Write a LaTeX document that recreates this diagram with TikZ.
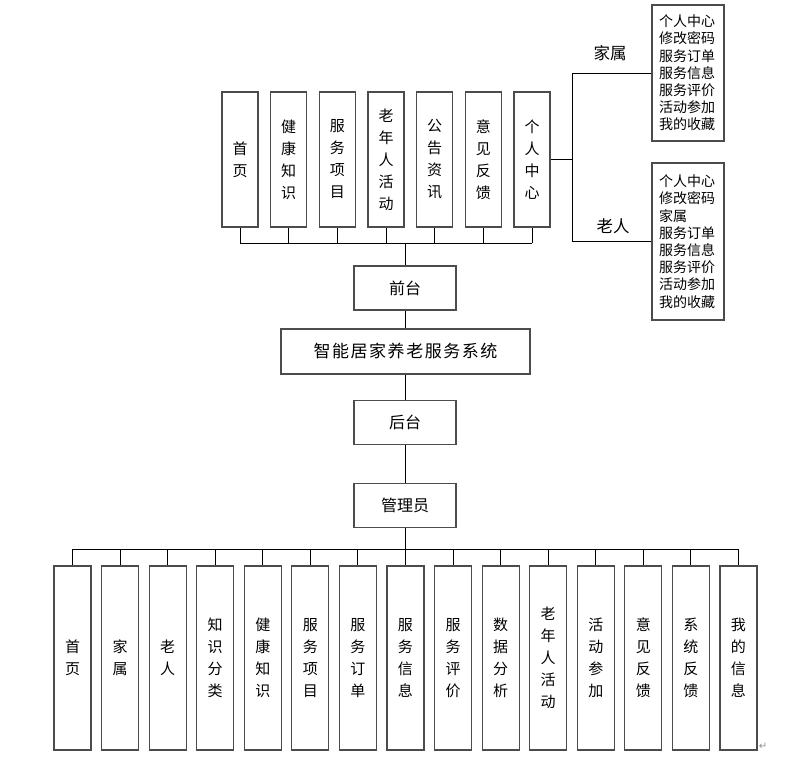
\documentclass[tikz,border=0pt]{standalone}
\usepackage{fontspec}
\newfontfamily\cjk{Noto Sans CJK SC}
\newfontfamily\dejavu{DejaVu Sans}
\begin{document}
\begin{tikzpicture}[x=1pt,y=-1pt,
  box/.style={draw=black!70, line width=1.1pt, inner sep=0pt, align=center,
              font=\cjk\fontsize{15}{22}\selectfont},
  topbox/.style={box, minimum width=36pt, minimum height=135pt},
  botbox/.style={box, minimum width=37pt, minimum height=184pt},
  midbox/.style={box, minimum width=102pt, minimum height=44pt,
              font=\cjk\fontsize{16}{20}\selectfont},
  sysbox/.style={box, minimum width=249pt, minimum height=45pt,
              font=\cjk\fontsize{17}{20}\selectfont\addfontfeature{LetterSpace=9}},
  listbox/.style={box, align=left, text width=58pt, inner xsep=7pt,
              font=\cjk\fontsize{14}{17.2}\selectfont},
  lbl/.style={font=\cjk\fontsize{16.5}{20}\selectfont, inner sep=1pt},
  conn/.style={draw=black, line width=0.9pt}
]
\useasboundingbox (0,0) rectangle (807,758);

% top row
\node[topbox] (t1) at (240,159.5) {首\\页};
\node[topbox] (t2) at (288.7,159.5) {健\\康\\知\\识};
\node[topbox] (t3) at (337.3,159.5) {服\\务\\项\\目};
\node[topbox] (t4) at (386,159.5) {老\\年\\人\\活\\动};
\node[topbox] (t5) at (434.7,159.5) {公\\告\\资\\讯};
\node[topbox] (t6) at (483.3,159.5) {意\\见\\反\\馈};
\node[topbox] (t7) at (532,159.5) {个\\人\\中\\心};

% right lists
\node[listbox, minimum height=136pt] (r1) at (688,73)
  {个人中心\\修改密码\\服务订单\\服务信息\\服务评价\\活动参加\\我的收藏};
\node[listbox, minimum height=157pt] (r2) at (688,241.5)
  {个人中心\\修改密码\\家属\\服务订单\\服务信息\\服务评价\\活动参加\\我的收藏};
\node[lbl] (lj) at (610,53) {家属};
\node[lbl] (lr) at (613,226) {老人};

% middle chain
\node[midbox] (qt) at (405,288) {前台};
\node[sysbox] (sys) at (405.5,351.5) {智能居家养老服务系统};
\node[midbox] (ht) at (405,422.5) {后台};
\node[midbox] (gly) at (405,505.5) {管理员};

% bottom row
\foreach \i/\t in {0/{首\\页},1/{家\\属},2/{老\\人},3/{知\\识\\分\\类},4/{健\\康\\知\\识},
  5/{服\\务\\项\\目},6/{服\\务\\订\\单},7/{服\\务\\信\\息},8/{服\\务\\评\\价},
  9/{数\\据\\分\\析},10/{老\\年\\人\\活\\动},11/{活\\动\\参\\加},12/{意\\见\\反\\馈},
  13/{系\\统\\反\\馈},14/{我\\的\\信\\息}}
  \node[botbox] (b\i) at ({72.5+47.57*\i},658) {\t};

\node[font=\dejavu\fontsize{10}{12}\selectfont, text=black!45, inner sep=0pt] (pm) at (763,746) {↵};

% connectors top
\coordinate (tb) at (405,243);
\foreach \i in {1,...,7} \draw[conn] (t\i.south) -- (t\i.south |- tb);
\draw[conn] (t1.south |- tb) -- (t7.south |- tb);
\draw[conn] (tb) -- (qt.north);
\coordinate (rv) at (572,0);
\draw[conn] (t7.east) -- (t7.east -| rv);
\draw[conn] (r1.west) -- (r1.west -| rv) -- (r2.west -| rv) -- (r2.west);

% chain
\draw[conn] (qt.south) -- (sys.north -| qt.south);
\draw[conn] (sys.south -| ht.north) -- (ht.north);
\draw[conn] (ht.south) -- (gly.north);

% bottom bus
\coordinate (bb) at (405,549);
\draw[conn] (gly.south) -- (bb);
\draw[conn] (b0.north |- bb) -- (b14.north |- bb);
\foreach \i in {0,...,14} \draw[conn] (b\i.north |- bb) -- (b\i.north);
\end{tikzpicture}
\end{document}
